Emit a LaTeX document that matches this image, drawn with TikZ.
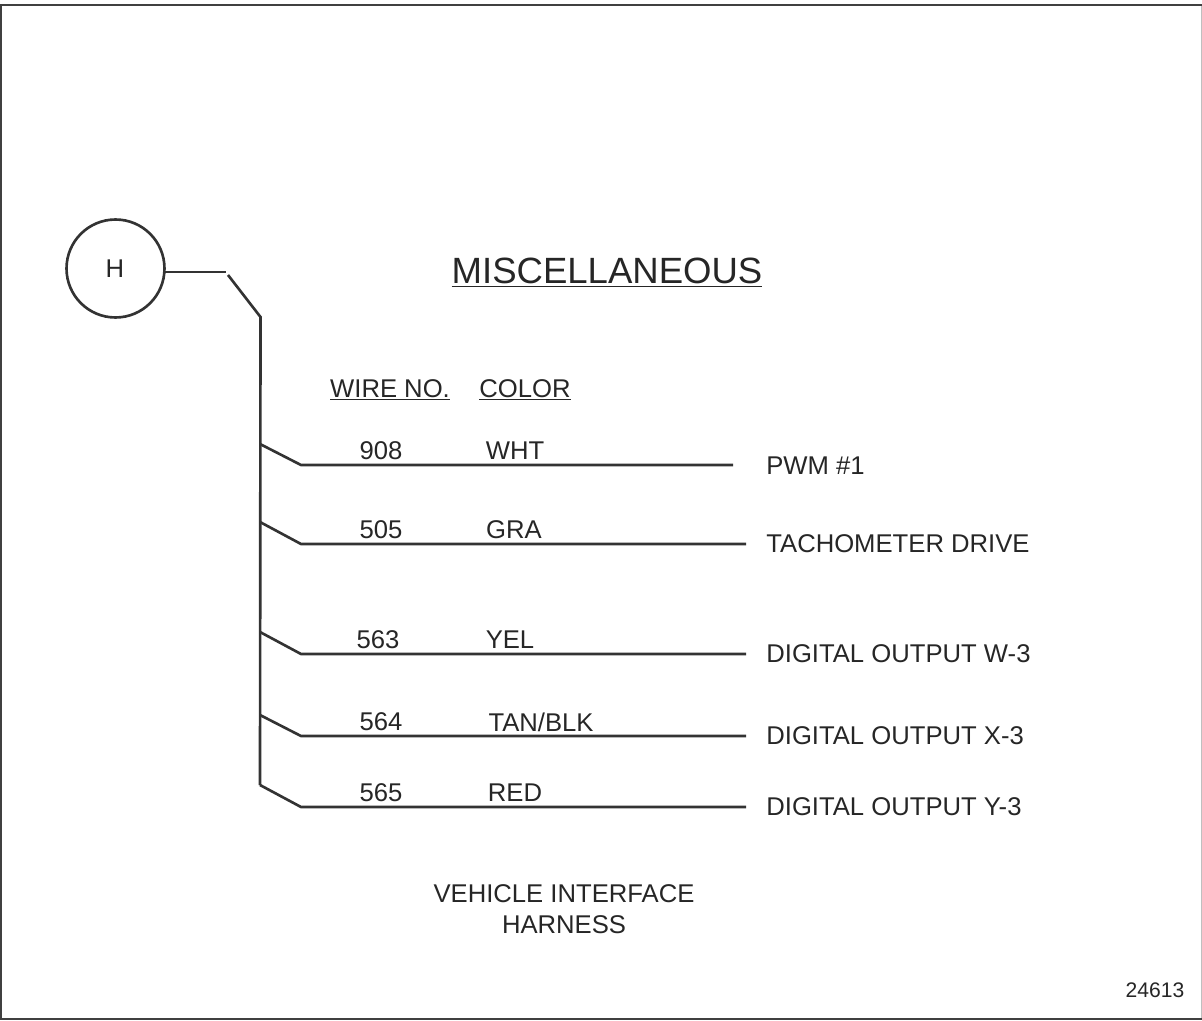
\documentclass[tikz,border=0pt]{standalone}
\usepackage{fontspec}
\setmainfont{Liberation Sans}
\tikzset{
	wire/.style={line width=1.5pt, black!80},
	lbl/.style={inner sep=0pt, text=black!85, font=\fontsize{14.6}{17}\selectfont},
	lblr/.style={lbl, anchor=west},
}
\begin{document}
\begin{tikzpicture}[x=0.02cm,y=-0.02cm]
	\useasboundingbox (0,0) rectangle (1202,1020);
	\draw[line width=0.5pt, black!25] (1201,5) -- (1201,1019);
	\draw[line width=1.2pt, black!75] (1202,5) -- (1,5) -- (1,1019) -- (1202,1019);
	\node[circle, draw, wire, minimum size=1.96cm, inner sep=0pt] (conn) at (115.5,268.5) {};
	\node[lbl] (hlabel) at (115,268.5) {H};
	\node[lbl, font=\fontsize{20.8}{24}\selectfont] (title) at (607,273) {\underline{MISCELLANEOUS}};
	\node[lbl] (wireno) at (390,390) {\underline{WIRE NO.}};
	\node[lbl] (colorhd) at (525,390) {\underline{COLOR}};
	% trunk
	\coordinate (a) at (226,272);
	\coordinate (a1) at (228,275);
	\coordinate (b) at (260.5,317);
	\coordinate (c) at (260,785);
	\draw[wire, shorten <=-1pt] (a -| conn.east) -- (a);
	\draw[wire] (a1) -- (b) -- (c);
	% wires
	\foreach \name/\ya/\yb/\xb/\xe/\xn/\num/\xc/\col in {
		w/444/465/301/733/381/908/515/WHT,
		t/522/544/301/746/381/505/514/GRA,
		d/632/654/301/746/378/563/510/YEL,
		x/715/736/301/746/381/564/541/{TAN/BLK},
		y/785/807/301/746/381/565/515/RED}
	{
		\coordinate (\name0) at (260,\ya);
		\coordinate (\name1) at (\xb,\yb);
		\coordinate (\name2) at (\xe,\yb);
		\draw[wire] (\name0) -- (\name1) -- (\name2);
		\node[lbl] (\name no) at (\xn,\yb-14) {\num};
		\node[lbl] (\name col) at (\xc,\yb-14) {\col};
	}
	\node[lblr] (pwm) at (766,466) {PWM \#1};
	\node[lblr] (tach) at (766,544) {TACHOMETER DRIVE};
	\node[lblr] (dow) at (766,654) {DIGITAL OUTPUT W-3};
	\node[lblr] (dox) at (766,736) {DIGITAL OUTPUT X-3};
	\node[lblr] (doy) at (766,807) {DIGITAL OUTPUT Y-3};
	\node[lbl] (veh) at (564,894) {VEHICLE INTERFACE};
	\node[lbl] (har) at (564,925) {HARNESS};
	\node[lbl, font=\fontsize{12}{14}\selectfont] (fig) at (1155,990) {24613};
\end{tikzpicture}
\end{document}
